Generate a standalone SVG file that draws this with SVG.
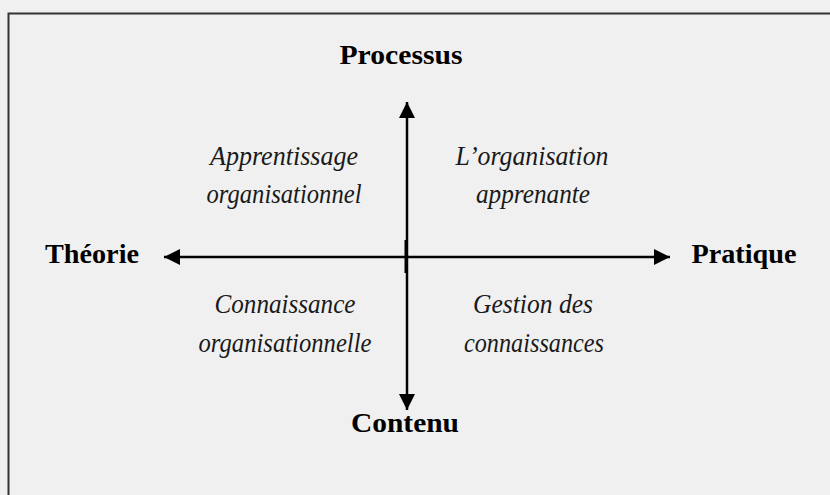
<svg xmlns="http://www.w3.org/2000/svg" width="830" height="495" viewBox="0 0 830 495">
<defs>
<style>
.lbl{font-family:"Liberation Serif","Times New Roman",serif;font-size:27px;font-weight:bold;fill:#000;text-anchor:middle}
.q{font-family:"Liberation Serif","Times New Roman",serif;font-size:28px;font-style:italic;fill:#1a1a1a;text-anchor:middle}
.ax{stroke:#000;stroke-width:2.5;fill:none}
</style>
<marker id="arr" viewBox="0 0 10 10" refX="10" refY="5" markerWidth="6.5" markerHeight="6.5" markerUnits="strokeWidth" orient="auto">
<path d="M0,0 L10,5 L0,10 Z" fill="#000"/>
</marker>
</defs>
<rect x="0" y="0" width="830" height="495" fill="#f0f0f0"/>
<path d="M8.5,500 L8.5,13.5 L835,13.5" stroke="#333" stroke-width="2" fill="none"/>
<g id="connectors">
<line class="ax" x1="407" y1="257" x2="407" y2="102" marker-end="url(#arr)"/>
<line class="ax" x1="407" y1="257" x2="407" y2="410" marker-end="url(#arr)"/>
<line class="ax" x1="407" y1="257" x2="164" y2="257" marker-end="url(#arr)"/>
<line class="ax" x1="407" y1="257" x2="670" y2="257" marker-end="url(#arr)"/>
<line x1="405.5" y1="240" x2="405.5" y2="273" stroke="#000" stroke-width="2"/>
</g>
<g id="processus"><text class="lbl" x="401" y="64" textLength="123" lengthAdjust="spacingAndGlyphs">Processus</text></g>
<g id="contenu"><text class="lbl" x="405" y="432" textLength="108" lengthAdjust="spacingAndGlyphs">Contenu</text></g>
<g id="theorie"><text class="lbl" x="92" y="263" textLength="94" lengthAdjust="spacingAndGlyphs">Théorie</text></g>
<g id="pratique"><text class="lbl" x="744" y="263" textLength="105" lengthAdjust="spacingAndGlyphs">Pratique</text></g>
<g id="q1"><text class="q" x="284" y="165" textLength="148" lengthAdjust="spacingAndGlyphs">Apprentissage</text><text class="q" x="284" y="203" textLength="155" lengthAdjust="spacingAndGlyphs">organisationnel</text></g>
<g id="q2"><text class="q" x="532" y="165" textLength="153" lengthAdjust="spacingAndGlyphs">L’organisation</text><text class="q" x="533" y="203" textLength="114" lengthAdjust="spacingAndGlyphs">apprenante</text></g>
<g id="q3"><text class="q" x="285" y="313" textLength="141" lengthAdjust="spacingAndGlyphs">Connaissance</text><text class="q" x="285" y="352" textLength="173" lengthAdjust="spacingAndGlyphs">organisationnelle</text></g>
<g id="q4"><text class="q" x="533" y="313" textLength="120" lengthAdjust="spacingAndGlyphs">Gestion des</text><text class="q" x="534" y="352" textLength="140" lengthAdjust="spacingAndGlyphs">connaissances</text></g>
</svg>
